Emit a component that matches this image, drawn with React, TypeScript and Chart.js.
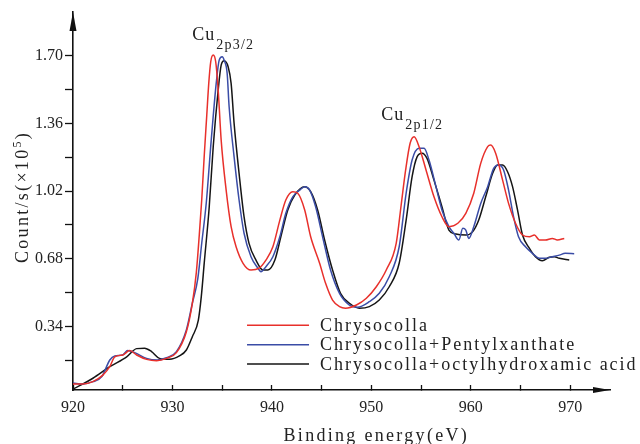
import React, { useEffect, useRef } from 'react';
import { Chart, registerables } from 'chart.js';

Chart.register(...registerables);

// ---- Data ----
const seriesLabels = ['Chrysocolla', 'Chrysocolla+Pentylxanthate', 'Chrysocolla+octylhydroxamic acid'];
const seriesColors = ['#e8302b', '#3a4ca6', '#151515'];

const chrysocollaEnergy = [
  920.0, 921.0, 922.0, 923.0, 923.7, 924.2, 925.0, 925.7, 926.4, 927.4, 928.4, 929.4, 930.4, 931.4, 932.0,
  932.4, 932.7, 932.95, 933.2, 933.45, 933.65, 933.85, 934.1, 934.35, 934.6, 934.9, 935.4, 935.9, 936.4, 937.1, 937.9,
  938.7, 939.4, 940.1, 940.8, 941.4, 942.1, 942.6, 943.3, 943.9, 944.8, 945.4, 946.1, 946.8, 947.4, 948.5,
  949.5, 950.5, 951.5, 952.5, 953.0, 953.45, 953.9, 954.3, 954.8, 955.5, 956.3, 957.1, 957.8, 958.7, 959.5,
  960.3, 961.0, 961.7, 962.0, 962.5, 963.2, 963.8, 964.5, 965.2, 965.9, 966.4, 966.9, 967.5, 968.2, 968.7, 969.4,
];
const chrysocollaCounts = [
  0.050, 0.050, 0.062, 0.095, 0.137, 0.187, 0.196, 0.218, 0.196, 0.174, 0.167, 0.179, 0.208, 0.313, 0.456,
  0.610, 0.800, 0.980, 1.200, 1.400, 1.560, 1.670, 1.704, 1.670, 1.528, 1.276, 1.025, 0.841, 0.740, 0.657, 0.623,
  0.632, 0.673, 0.740, 0.874, 0.975, 1.017, 1.009, 0.925, 0.790, 0.657, 0.556, 0.472, 0.439, 0.431, 0.447,
  0.481, 0.539, 0.623, 0.757, 0.950, 1.126, 1.260, 1.293, 1.243, 1.126, 0.991, 0.891, 0.841, 0.858, 0.908,
  1.009, 1.159, 1.243, 1.251, 1.210, 1.075, 0.958, 0.858, 0.799, 0.790, 0.799, 0.774, 0.774, 0.782, 0.774, 0.782,
];

const pentylxanthateEnergy = [
  920.0, 921.0, 922.0, 922.9, 923.7, 924.2, 925.0, 925.5, 926.2, 927.4, 928.5, 929.4, 930.4, 931.4, 932.0,
  932.55, 932.95, 933.4, 933.9, 934.4, 934.7, 935.0, 935.2, 935.5, 935.7, 936.2, 936.7, 937.2, 937.9, 938.6,
  938.9, 939.4, 940.1, 940.8, 941.4, 942.1, 942.8, 943.3, 943.8, 944.4, 945.1, 945.9, 946.8, 947.8, 948.6,
  949.8, 950.8, 951.8, 952.8, 953.5, 954.1, 954.8, 955.3, 955.8, 956.5, 957.1, 957.8, 958.3, 958.8, 959.2,
  959.5, 959.8, 960.3, 961.0, 961.7, 962.3, 962.8, 963.3, 963.8, 964.3, 964.8, 965.5, 966.2, 966.9, 967.5,
  968.2, 968.9, 969.5, 970.4,
];
const pentylxanthateCounts = [
  0.055, 0.050, 0.062, 0.087, 0.171, 0.191, 0.196, 0.218, 0.208, 0.179, 0.171, 0.182, 0.213, 0.322, 0.456,
  0.580, 0.760, 0.960, 1.276, 1.561, 1.678, 1.695, 1.678, 1.612, 1.444, 1.192, 0.975, 0.808, 0.690, 0.632,
  0.615, 0.640, 0.690, 0.790, 0.908, 0.991, 1.025, 1.042, 1.025, 0.941, 0.790, 0.623, 0.506, 0.447, 0.436,
  0.464, 0.506, 0.589, 0.740, 1.009, 1.176, 1.235, 1.235, 1.176, 1.042, 0.925, 0.841, 0.808, 0.774, 0.833,
  0.824, 0.782, 0.841, 0.958, 1.042, 1.134, 1.151, 1.126, 1.025, 0.891, 0.790, 0.740, 0.707, 0.682, 0.682,
  0.690, 0.698, 0.707, 0.705,
];

const octylhydroxamicEnergy = [
  920.0, 922.0, 923.7, 925.4, 926.4, 927.2, 927.9, 928.7, 929.7, 930.7, 931.4, 932.0, 932.6, 932.9, 933.2,
  933.7, 934.1, 934.6, 934.9, 935.2, 935.6, 935.9, 936.2, 936.7, 937.2, 937.7, 938.4, 939.1, 939.6, 940.3,
  940.9, 941.6, 942.3, 943.3, 943.9, 944.6, 945.3, 946.1, 946.9, 947.8, 948.8, 949.8, 950.8, 951.8, 952.8,
  953.5, 954.1, 954.6, 955.1, 955.6, 956.3, 957.1, 957.8, 958.5, 959.5, 960.2, 960.8, 961.5, 962.2, 962.7,
  963.2, 963.7, 964.2, 964.7, 965.2, 965.9, 966.5, 967.2, 967.9, 968.4, 968.9, 969.9,
];
const octylhydroxamicCounts = [
  0.024, 0.079, 0.137, 0.187, 0.228, 0.230, 0.213, 0.179, 0.174, 0.191, 0.221, 0.288, 0.370, 0.489, 0.660,
  0.941, 1.243, 1.528, 1.653, 1.675, 1.645, 1.561, 1.360, 1.109, 0.891, 0.757, 0.673, 0.623, 0.623, 0.673,
  0.790, 0.925, 1.000, 1.042, 1.017, 0.925, 0.774, 0.623, 0.506, 0.456, 0.431, 0.439, 0.472, 0.539, 0.657,
  0.874, 1.092, 1.192, 1.210, 1.184, 1.075, 0.941, 0.824, 0.804, 0.799, 0.816, 0.874, 0.991, 1.109, 1.151,
  1.151, 1.117, 1.042, 0.925, 0.799, 0.732, 0.690, 0.670, 0.687, 0.690, 0.682, 0.673,
];

const seriesEnergy = [chrysocollaEnergy, pentylxanthateEnergy, octylhydroxamicEnergy];
const seriesCounts = [chrysocollaCounts, pentylxanthateCounts, octylhydroxamicCounts];

const xMin = 920;
const xMax = 974;
const xStep = 5;
const yMin = 0.02;
const yMax = 1.92;
const yStep = 0.17;

const xTitle = 'Binding energy(eV)';
const yTitleMain = 'Count/s(×10';
const yTitleSup = '5';
const yTitleEnd = ')';
const peakMain = 'Cu';
const peakSubs = ['2p3/2', '2p1/2'];

const SERIF = '"Liberation Serif", "DejaVu Serif", serif';

const overlayPlugin = {
  id: 'overlay',
  afterDraw(chart: any) {
    const { ctx, chartArea, scales } = chart;
    const xs = scales.x;
    const ys = scales.y;
    ctx.save();
    const c: any = ctx;

    // axis arrows
    ctx.fillStyle = '#111';
    ctx.beginPath();
    ctx.moveTo(chartArea.left, chartArea.top);
    ctx.lineTo(chartArea.left - 3.5, chartArea.top + 19);
    ctx.lineTo(chartArea.left + 3.5, chartArea.top + 19);
    ctx.closePath();
    ctx.fill();
    ctx.beginPath();
    ctx.moveTo(chartArea.right, chartArea.bottom);
    ctx.lineTo(chartArea.right - 17, chartArea.bottom - 3);
    ctx.lineTo(chartArea.right - 17, chartArea.bottom + 3);
    ctx.closePath();
    ctx.fill();

    // legend
    const lx = xs.getPixelForValue(937.5);
    const ly0 = ys.getPixelForValue(0.345);
    chart.data.datasets.forEach((ds: any, i: number) => {
      const y = ly0 + i * 19.3;
      ctx.strokeStyle = ds.borderColor;
      ctx.lineWidth = 1.5;
      ctx.beginPath();
      ctx.moveTo(lx, y);
      ctx.lineTo(lx + 62, y);
      ctx.stroke();
      ctx.fillStyle = '#222';
      ctx.font = '18px ' + SERIF;
      c.letterSpacing = '2px';
      ctx.textBaseline = 'middle';
      ctx.textAlign = 'left';
      ctx.fillText(ds.label, lx + 73, y + 1);
    });

    // peak labels
    const drawPeak = (sub: string, xv: number, yv: number) => {
      const x = xs.getPixelForValue(xv);
      const y = ys.getPixelForValue(yv);
      ctx.fillStyle = '#222';
      ctx.textBaseline = 'alphabetic';
      ctx.textAlign = 'left';
      ctx.font = '18px ' + SERIF;
      c.letterSpacing = '1px';
      ctx.fillText(peakMain, x, y);
      const w = ctx.measureText(peakMain).width;
      ctx.font = '14px ' + SERIF;
      c.letterSpacing = '1.2px';
      ctx.fillText(sub, x + w + 1, y + 8.5);
    };
    drawPeak(peakSubs[0], 932.0, 1.779);
    drawPeak(peakSubs[1], 951.0, 1.377);

    // x title
    ctx.fillStyle = '#222';
    ctx.font = '18px ' + SERIF;
    c.letterSpacing = '2.3px';
    ctx.textAlign = 'center';
    ctx.textBaseline = 'alphabetic';
    ctx.fillText(xTitle, xs.getPixelForValue(950.5), 441);

    // y title (rotated)
    ctx.save();
    ctx.translate(28, (chartArea.top + chartArea.bottom) / 2 - 4);
    ctx.rotate(-Math.PI / 2);
    ctx.textAlign = 'left';
    ctx.font = '18px ' + SERIF;
    c.letterSpacing = '2.3px';
    const w1 = ctx.measureText(yTitleMain).width;
    const w3 = ctx.measureText(yTitleEnd).width;
    ctx.font = '12px ' + SERIF;
    const w2 = ctx.measureText(yTitleSup).width;
    const total = w1 + w2 + w3;
    let px = -total / 2;
    ctx.font = '18px ' + SERIF;
    ctx.fillText(yTitleMain, px, 0);
    px += w1;
    ctx.font = '12px ' + SERIF;
    ctx.fillText(yTitleSup, px, -7);
    px += w2;
    ctx.font = '18px ' + SERIF;
    ctx.fillText(yTitleEnd, px, 0);
    ctx.restore();

    c.letterSpacing = '0px';
    ctx.restore();
  },
};

export default function App() {
  const canvasRef = useRef<HTMLCanvasElement | null>(null);

  useEffect(() => {
    document.body.style.margin = '0';
    const canvas = canvasRef.current;
    if (!canvas) return;
    const datasets = seriesLabels.map((label, i) => ({
      label,
      data: seriesEnergy[i].map((x, j) => ({ x, y: seriesCounts[i][j] })),
      borderColor: seriesColors[i],
      backgroundColor: seriesColors[i],
      borderWidth: 1.5,
      pointRadius: 0,
      cubicInterpolationMode: 'monotone',
      fill: false,
    }));
    const chart = new Chart(canvas, {
      type: 'line',
      data: { datasets },
      options: {
        responsive: false,
        animation: false,
        devicePixelRatio: 1,
        layout: { padding: { top: 12, right: 30, left: 0, bottom: 0 } },
        plugins: { legend: { display: false }, tooltip: { enabled: false } },
        scales: {
          x: {
            type: 'linear',
            min: xMin,
            max: xMax,
            afterFit: (s: any) => { s.height = 54; },
            ticks: {
              stepSize: xStep,
              includeBounds: false,
              autoSkip: false,
              maxRotation: 0,
              padding: 13,
              color: '#222',
              font: { family: SERIF, size: 16 },
              callback: (v: any) => (Math.round(v) % 10 === 0 ? String(Math.round(v)) : ''),
            },
            grid: { drawOnChartArea: false, drawTicks: true, tickLength: -5, tickColor: '#111', tickWidth: 1.3 },
            border: { display: true, color: '#111', width: 1.6 },
          },
          y: {
            type: 'linear',
            min: yMin,
            max: yMax,
            afterFit: (s: any) => { s.width = 73; },
            afterBuildTicks: (s: any) => { s.ticks = s.ticks.filter((t: any) => t.value <= 1.705); },
            ticks: {
              stepSize: yStep,
              includeBounds: false,
              autoSkip: false,
              padding: 2,
              color: '#222',
              font: { family: SERIF, size: 16 },
              callback: (v: any) => (Math.round(v / yStep) % 2 === 0 ? Number(v).toFixed(2) : ''),
            },
            grid: { drawOnChartArea: false, drawTicks: true, tickLength: 8, tickColor: '#111', tickWidth: 1.3 },
            border: { display: true, color: '#111', width: 1.6 },
          },
        },
      } as any,
      plugins: [overlayPlugin],
    });
    return () => chart.destroy();
  }, []);

  return (
    <div style={{ position: 'fixed', left: 0, top: 0, width: 640, height: 444, background: '#fff' }}>
      <canvas ref={canvasRef} width={640} height={444} />
    </div>
  );
}
